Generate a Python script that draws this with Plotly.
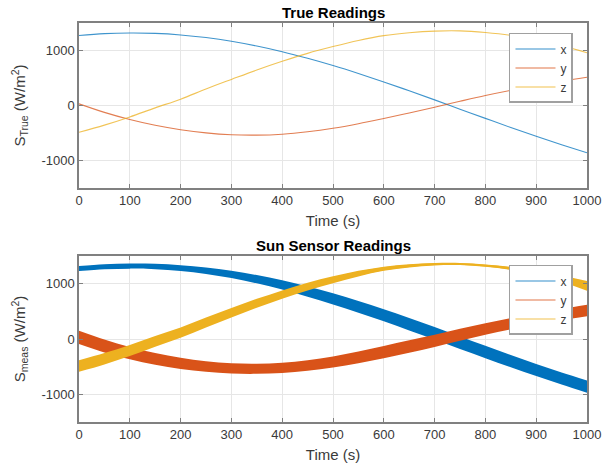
import plotly.graph_objects as go

# Time samples (s)
t = [0, 50, 100, 150, 200, 250, 300, 350, 400, 450, 500,
     550, 600, 650, 700, 750, 800, 850, 900, 950, 1000]

# True sun-vector components (W/m^2)
s_true_x = [1273, 1306, 1318, 1311, 1283, 1235, 1168, 1081, 978, 858, 726,
            582, 429, 267, 102, -67, -234, -401, -561, -714, -861]
s_true_y = [30, -125, -255, -360, -440, -498, -532, -539, -522, -478, -414,
            -331, -236, -136, -32, 77, 182, 276, 362, 442, 515]
s_true_z = [-488, -357, -208, -43, 115, 300, 474, 645, 803, 948, 1071,
            1182, 1270, 1322, 1352, 1356, 1326, 1275, 1195, 1092, 960]

# Spread of the sensor noise around each component (half-width, W/m^2)
noise_x = [45, 45, 46, 48, 52, 58, 66, 75, 84, 92, 100,
           106, 110, 112, 113, 113, 112, 110, 108, 108, 110]
noise_y = [120, 117, 112, 106, 100, 95, 92, 91, 92, 95, 100,
           106, 110, 112, 111, 108, 105, 103, 102, 102, 104]
noise_z = [105, 103, 100, 96, 93, 90, 86, 81, 76, 70, 62,
           51, 38, 28, 22, 20, 22, 27, 36, 55, 88]

names = ["x", "y", "z"]
colors = ["#0072BD", "#D95319", "#EDB120"]
true_series = [s_true_x, s_true_y, s_true_z]
noise_series = [noise_x, noise_y, noise_z]

TOP = [0.5865, 1.0]
BOT = [0.0, 0.416]

fig = go.Figure()

# Upper panel: true readings
for name, col, ys in zip(names, colors, true_series):
    fig.add_trace(go.Scatter(
        x=t, y=ys, mode="lines", name=name, showlegend=False,
        line=dict(color=col, width=1.1, shape="spline"), opacity=0.75,
        xaxis="x", yaxis="y"))


def add_band(ys, ns, col, scale, opacity):
    lo = [v - n * scale for v, n in zip(ys, ns)]
    hi = [v + n * scale for v, n in zip(ys, ns)]
    fig.add_trace(go.Scatter(
        x=t, y=lo, mode="lines", showlegend=False, hoverinfo="skip",
        line=dict(color=col, width=0, shape="spline"), opacity=opacity,
        xaxis="x2", yaxis="y2"))
    fig.add_trace(go.Scatter(
        x=t, y=hi, mode="lines", showlegend=False, hoverinfo="skip",
        fill="tonexty", fillcolor=col, opacity=opacity,
        line=dict(color=col, width=0, shape="spline"),
        xaxis="x2", yaxis="y2"))


# Lower panel: measured readings, drawn as the noise spread around each
# component (faint outer spikes, dense core)
for col, ys, ns in zip(colors, true_series, noise_series):
    add_band(ys, ns, col, 1.0, 0.45)
    add_band(ys, ns, col, 0.72, 1.0)

# Legend entries for both panels
for name, col in zip(names, colors):
    fig.add_trace(go.Scatter(
        x=[None], y=[None], mode="lines", name=name, legend="legend",
        line=dict(color=col, width=2), opacity=0.4, xaxis="x", yaxis="y"))
    fig.add_trace(go.Scatter(
        x=[None], y=[None], mode="lines", name=name, legend="legend2",
        line=dict(color=col, width=2), opacity=0.4, xaxis="x2", yaxis="y2"))

FONT = "Liberation Sans, Arial, sans-serif"
AX_COL = "#808080"
GRID_COL = "#e6e6e6"
TEXT_COL = "#3a3a3a"
TICK_FONT = dict(family=FONT, size=13, color=TEXT_COL)

def xaxis_cfg(anchor):
    return dict(
        domain=[0, 1], range=[0, 1000], dtick=100, anchor=anchor,
        automargin=False,
        showgrid=True, gridcolor=GRID_COL, gridwidth=1, zeroline=False,
        showline=True, linecolor=AX_COL, linewidth=1.5, mirror="ticks",
        ticks="inside", ticklen=4, tickcolor=AX_COL, tickfont=TICK_FONT,
        title=dict(text="Time (s)", font=dict(family=FONT, size=15, color=TEXT_COL),
                   standoff=8))

def yaxis_cfg(domain, anchor, label):
    return dict(
        domain=domain, range=[-1500, 1500], tickvals=[-1000, 0, 1000],
        ticktext=["-1000", "0", "1000"], anchor=anchor,
        automargin=False,
        showgrid=True, gridcolor=GRID_COL, gridwidth=1, zeroline=False,
        showline=True, linecolor=AX_COL, linewidth=1.5, mirror="ticks",
        ticks="inside", ticklen=4, tickcolor=AX_COL, tickfont=TICK_FONT,
        title=dict(text=label, font=dict(family=FONT, size=15, color=TEXT_COL),
                   standoff=12))

legend_cfg = dict(
    xanchor="right", x=0.9724, yanchor="top", traceorder="normal",
    bgcolor="white", bordercolor="#a0a0a0", borderwidth=1.5,
    font=dict(family=FONT, size=12, color=TEXT_COL),
    tracegroupgap=0, itemwidth=40)

fig.update_layout(
    width=604, height=465,
    margin=dict(l=79, r=17, t=23, b=43),
    paper_bgcolor="white", plot_bgcolor="white",
    xaxis=xaxis_cfg("y"),
    yaxis=yaxis_cfg(TOP, "x", "S<sub>True</sub> (W/m<sup>2</sup>)"),
    xaxis2=xaxis_cfg("y2"),
    yaxis2=yaxis_cfg(BOT, "x2", "S<sub>meas</sub> (W/m<sup>2</sup>)"),
    legend=dict(legend_cfg, y=0.975),
    legend2=dict(legend_cfg, y=0.3935),
    annotations=[
        dict(text="<b>True Readings</b>", xref="paper", yref="paper",
             x=0.5, y=1.0, yanchor="bottom", yshift=0, showarrow=False,
             font=dict(family=FONT, size=15, color="black")),
        dict(text="<b>Sun Sensor Readings</b>", xref="paper", yref="paper",
             x=0.5, y=BOT[1], yanchor="bottom", yshift=0, showarrow=False,
             font=dict(family=FONT, size=15, color="black")),
    ],
)

fig.write_html("out.html")
